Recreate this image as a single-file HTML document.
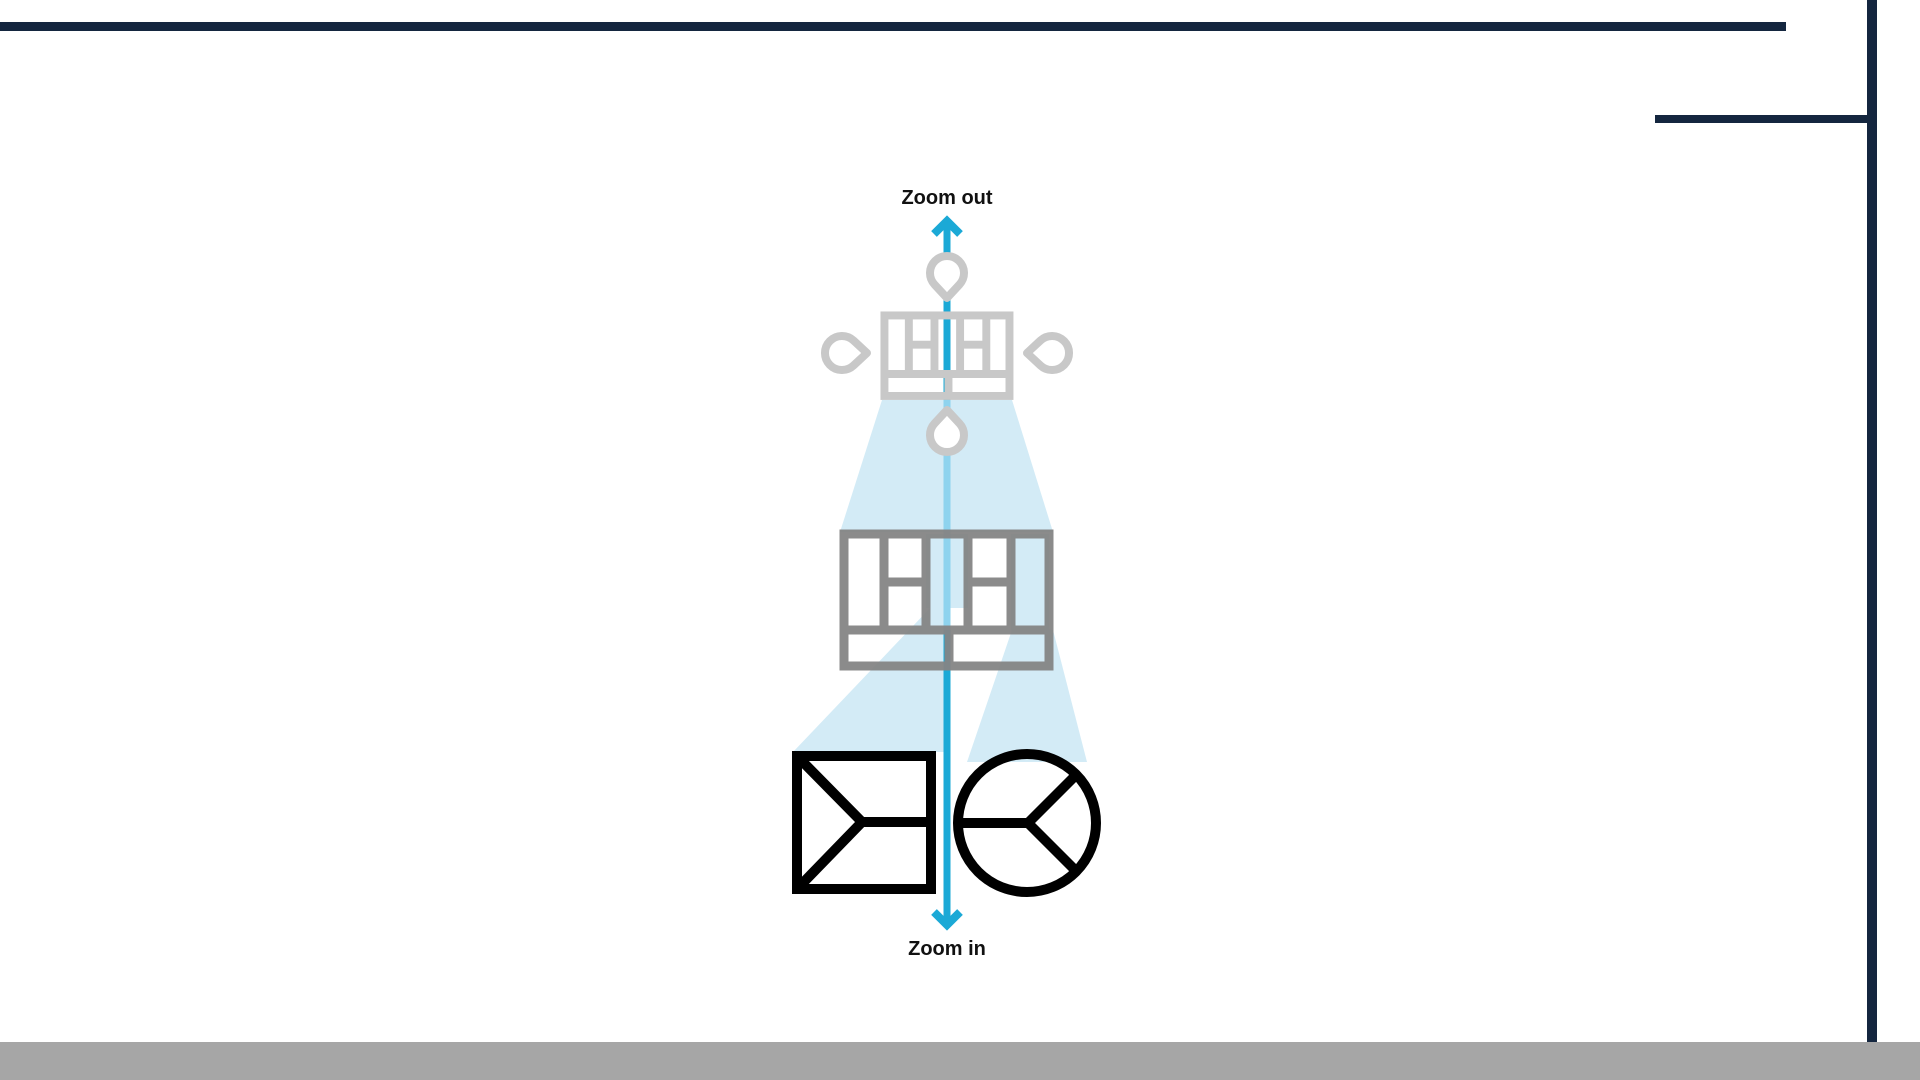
<!DOCTYPE html>
<html><head><meta charset="utf-8"><style>html,body{margin:0;padding:0;background:#fff;width:1920px;height:1080px;overflow:hidden}</style></head>
<body>
<svg width="1920" height="1080" viewBox="0 0 1920 1080" xmlns="http://www.w3.org/2000/svg">
<rect x="0" y="0" width="1920" height="1080" fill="#fff"/>
<rect x="0" y="22" width="1786" height="9" fill="#14263f"/>
<rect x="1867" y="0" width="10" height="1043" fill="#14263f"/>
<rect x="1655" y="115" width="216" height="8" fill="#14263f"/>
<rect x="0" y="1042" width="1920" height="38" fill="#a6a6a6"/>
<g fill="#d3ebf6">
<polygon points="882,400 1012,400 1053,532 840,532"/>
<rect x="926" y="534" width="42" height="74"/>
<polygon points="932,606 949,606 949,752 793,752"/>
<rect x="1011" y="534" width="38" height="96"/>
<polygon points="1013,627 1053,630 1087,762 967,762"/>
</g>
<line x1="947" y1="222" x2="947" y2="400" stroke="#1ba9d6" stroke-width="7"/>
<line x1="947" y1="400" x2="947" y2="630" stroke="#8ed3ee" stroke-width="7"/>
<line x1="947" y1="630" x2="947" y2="924" stroke="#1ba9d6" stroke-width="7"/>
<polyline points="934,234 947,221 960,234" fill="none" stroke="#1ba9d6" stroke-width="8"/>
<polyline points="934,912 947,925 960,912" fill="none" stroke="#1ba9d6" stroke-width="8"/>
<g fill="#fff" stroke="#c8c8c8" stroke-width="8" stroke-linejoin="round">
<path transform="translate(947,273)" d="M0 25 L12.4 11.6 A17 17 0 1 0 -12.4 11.6 Z"/>
<path transform="translate(947,435) rotate(180)" d="M0 25 L12.4 11.6 A17 17 0 1 0 -12.4 11.6 Z"/>
<path transform="translate(842,353) rotate(-90)" d="M0 25 L12.4 11.6 A17 17 0 1 0 -12.4 11.6 Z"/>
<path transform="translate(1052,353) rotate(90)" d="M0 25 L12.4 11.6 A17 17 0 1 0 -12.4 11.6 Z"/>
</g>
<g transform="translate(882,313) scale(0.61) translate(-840,-530)" fill="none" stroke="#c8c8c8" stroke-width="13">
<rect x="844" y="534" width="205" height="132"/>
<line x1="884" y1="534" x2="884" y2="630"/><line x1="926" y1="534" x2="926" y2="630"/>
<line x1="968" y1="534" x2="968" y2="630"/><line x1="1011" y1="534" x2="1011" y2="630"/>
<line x1="884" y1="582" x2="926" y2="582"/><line x1="968" y1="582" x2="1011" y2="582"/>
<line x1="844" y1="630" x2="1049" y2="630"/><line x1="949" y1="630" x2="949" y2="666"/>
</g>
<g fill="none" stroke="#858585" stroke-width="9" opacity="0.95">
<rect x="844" y="534" width="205" height="132"/>
<line x1="884" y1="534" x2="884" y2="630"/><line x1="926" y1="534" x2="926" y2="630"/>
<line x1="968" y1="534" x2="968" y2="630"/><line x1="1011" y1="534" x2="1011" y2="630"/>
<line x1="884" y1="582" x2="926" y2="582"/><line x1="968" y1="582" x2="1011" y2="582"/>
<line x1="844" y1="630" x2="1049" y2="630"/><line x1="949" y1="630" x2="949" y2="666"/>
</g>
<g fill="none" stroke="#000" stroke-width="10">
<rect x="797" y="756" width="134" height="133"/>
<polyline points="797,756 862,822 797,889"/>
<line x1="862" y1="822" x2="931" y2="822"/>
<circle cx="1027" cy="823" r="69"/>
<line x1="958" y1="823" x2="1028" y2="823"/>
<line x1="1028" y1="823" x2="1076" y2="775"/>
<line x1="1028" y1="823" x2="1076" y2="871"/>
</g>
<g font-family="Liberation Sans, sans-serif" font-weight="bold" font-size="20" fill="#111" text-anchor="middle">
<text x="947" y="204">Zoom out</text>
<text x="947" y="955">Zoom in</text>
</g>
</svg>
</body></html>
